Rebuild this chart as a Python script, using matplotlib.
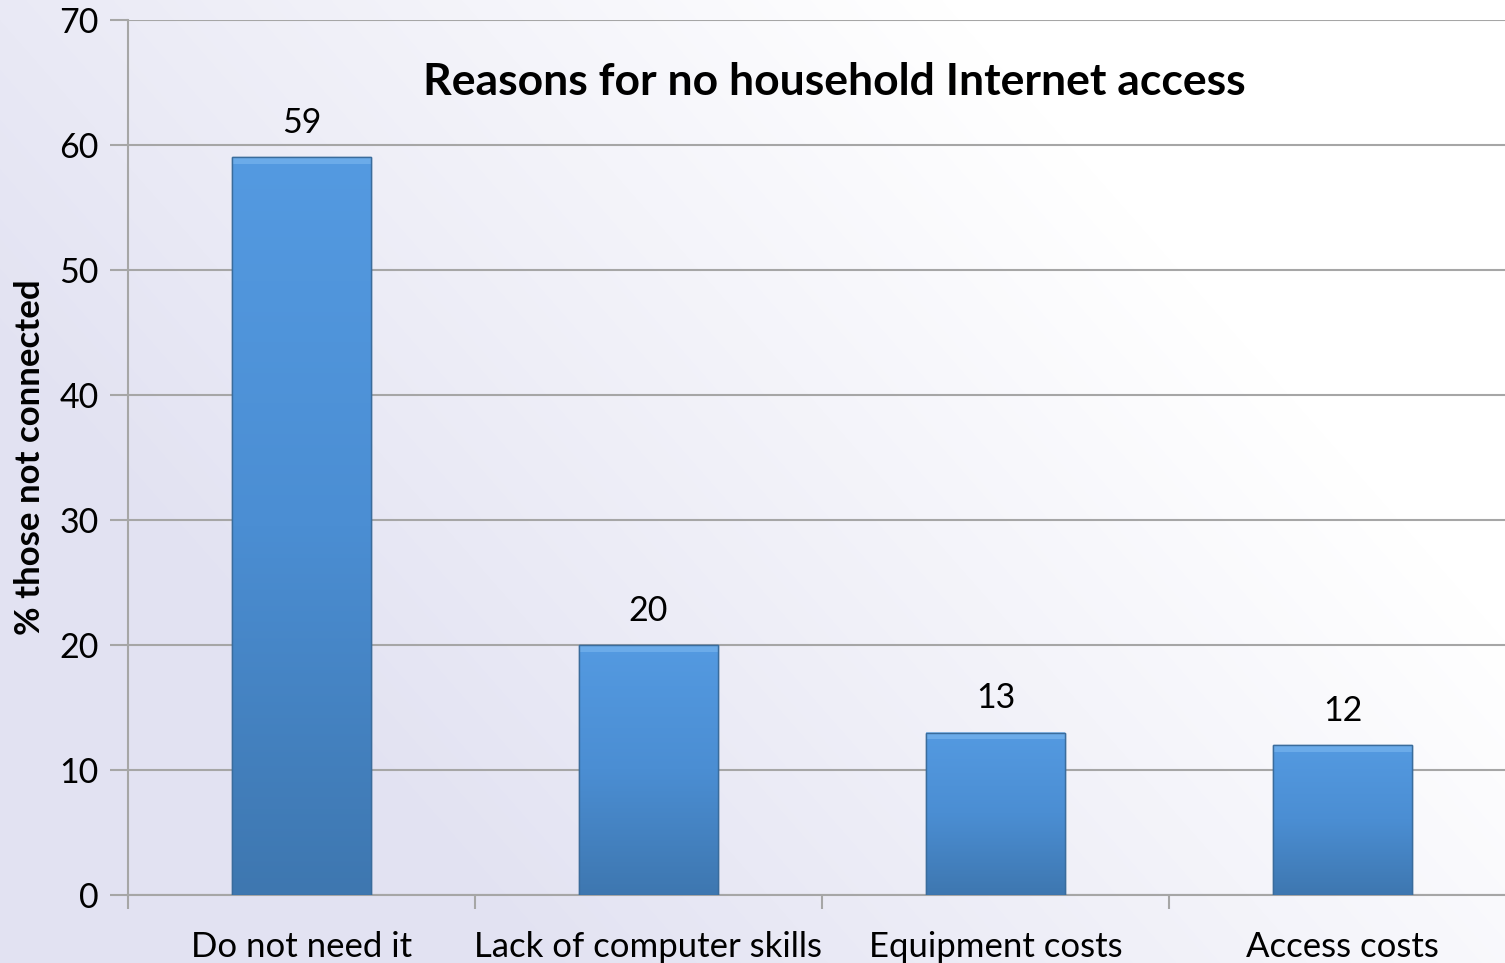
import numpy as np
import matplotlib
matplotlib.use("Agg")
import matplotlib.pyplot as plt
from matplotlib.colors import LinearSegmentedColormap

categories = ["Do not need it", "Lack of computer skills", "Equipment costs", "Access costs"]
values = [59, 20, 13, 12]
yticks = [0, 10, 20, 30, 40, 50, 60, 70]
title = "Reasons for no household Internet access"
ylabel = "% those not connected"

plt.rcParams['font.family'] = ['Lato', 'DejaVu Sans']

W, H = 1505, 963
fig = plt.figure(figsize=(W / 100, H / 100), dpi=100)

# background gradient
bg = fig.add_axes([0, 0, 1, 1], zorder=-10)
bg.set_axis_off()
yy, xx = np.mgrid[0:H, 0:W]
t = (xx / W) * 0.8 + (1 - yy / H) * 0.45
t = np.clip((t - 0.3) / 0.65, 0, 1)
c0 = np.array([0.89, 0.89, 0.95])
c1 = np.array([1.0, 1.0, 1.0])
img = c0[None, None, :] * (1 - t[..., None]) + c1[None, None, :] * t[..., None]
bg.imshow(img, aspect='auto', extent=[0, 1, 0, 1], origin='upper')
bg.set_xlim(0, 1); bg.set_ylim(0, 1)

ax = fig.add_axes([128 / W, 68 / H, 1388 / W, 875 / H])
ax.patch.set_alpha(0)
x = np.arange(len(categories))
bars = ax.bar(x, values, width=0.4, color='#4a8fd4', edgecolor='#3a6c9c', linewidth=1.0, zorder=3)

cmap = LinearSegmentedColormap.from_list('bar', ['#3e77b0', '#4b8ed3', '#549ae1'])
grad = np.linspace(0, 1, 256).reshape(-1, 1)
for b in bars:
    x0, y0 = b.get_x(), b.get_y()
    w, h = b.get_width(), b.get_height()
    im = ax.imshow(grad, cmap=cmap, aspect='auto', origin='lower',
                   extent=[x0, x0 + w, y0, y0 + h], zorder=3.5)
    im.set_clip_path(b)
    # top bevel highlight
    ax.fill_between([x0, x0 + w], y0 + h - 0.55, y0 + h, color='#76b4ee', alpha=0.7, zorder=3.6, linewidth=0)
    ax.bar(b.get_x() + w / 2, h, width=w, bottom=y0, fill=False, edgecolor='#3a6c9c', linewidth=1.0, zorder=4)
    ax.annotate(f"{h:.0f}", (x0 + w / 2, y0 + h), xytext=(0, 13), textcoords='offset points',
                ha='center', va='bottom', fontsize=24.5, color='black')

ax.set_xlim(-0.5, 3.5)
ax.set_ylim(0, 70)
ax.set_yticks(yticks)
ax.set_yticklabels([str(v) for v in yticks], fontsize=24.5)
ax.yaxis.grid(True, color='#a6a6a6', linewidth=1.5, zorder=0)
ax.set_axisbelow(True)
ax.tick_params(axis='y', length=13, width=1.5, color='#a6a6a6', pad=8)

ax.set_xticks(x)
ax.set_xticklabels(categories, fontsize=25)
ax.set_xticks(np.arange(-0.5, 4.0, 1.0), minor=True)
ax.tick_params(axis='x', which='major', length=0, pad=26)
ax.tick_params(axis='x', which='minor', length=10, width=1.5, color='#a6a6a6')

for s in ['top', 'right']:
    ax.spines[s].set_visible(False)
for s in ['left', 'bottom']:
    ax.spines[s].set_color('#a6a6a6')
    ax.spines[s].set_linewidth(1.5)

ax.set_ylabel(ylabel, fontsize=25, fontweight='bold', labelpad=10)
ax.text(0.509, 0.929, title, transform=ax.transAxes, ha='center', va='center',
        fontsize=32, fontweight='bold')

fig.savefig('out.png', dpi=100)
